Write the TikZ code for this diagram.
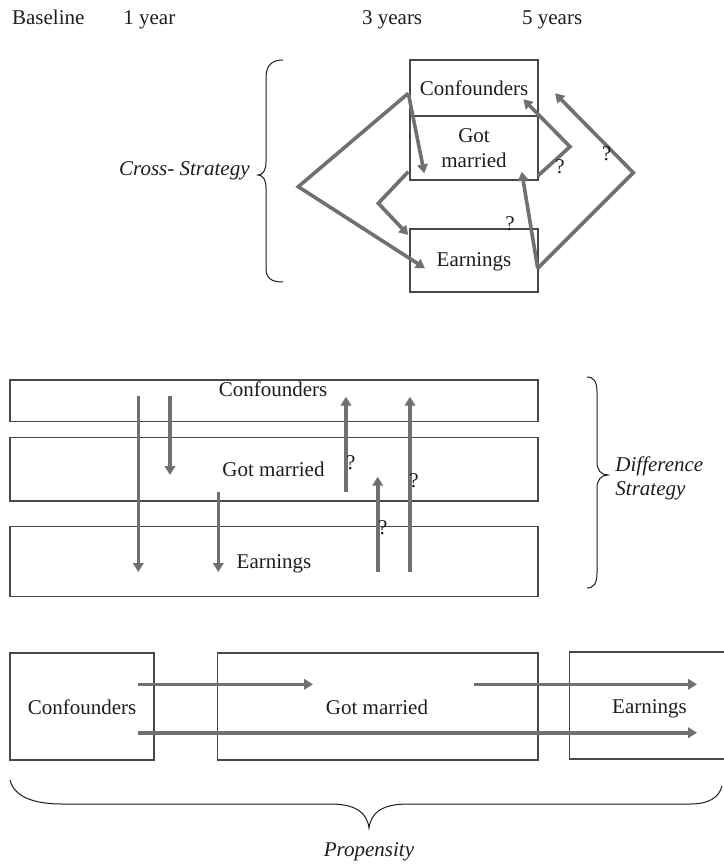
\documentclass[tikz,border=0pt]{standalone}
\usepackage{fontspec}
\setmainfont{Liberation Serif}
\usetikzlibrary{arrows.meta}
\definecolor{arr}{RGB}{112,112,114}
\definecolor{edge}{RGB}{72,72,72}
\definecolor{ink}{RGB}{30,30,30}
\begin{document}
\begin{tikzpicture}[x=0.5pt,y=-0.5pt,
  box/.style={draw=edge, line width=0.7pt, anchor=north west, inner sep=0pt, outer sep=0pt},
  lbl/.style={anchor=base, inner sep=0pt, text=ink, font=\fontsize{10.5}{12}\selectfont},
  lblw/.style={lbl, anchor=base west},
  ital/.style={lbl, font=\fontsize{10.5}{12}\selectfont\itshape},
  qm/.style={inner sep=0pt, text=ink, font=\fontsize{10.5}{12}\selectfont},
  arrow/.style={draw=arr, line width=1.8pt, -{Triangle[length=4.5pt,width=5.2pt]}},
  brc/.style={draw=ink, line width=0.5pt}]
\useasboundingbox[fill=white] (0,0) rectangle (723,865);

% ---------- header ----------
\node[lblw] (hB) at (11.7,25) {Baseline};
\node[lblw] (h1) at (123,25) {1 year};
\node[lblw] (h3) at (361.7,25) {3 years};
\node[lblw] (h5) at (521.7,25) {5 years};

% ---------- cross strategy ----------
\node[box, minimum width=64pt, minimum height=28pt] (tC) at (410,60) {};
\node[box, minimum width=64pt, minimum height=32pt] (tG) at (410,116) {};
\node[box, minimum width=64pt, minimum height=31.5pt] (tE) at (410,229) {};
\node[lbl] (tCt) at (474,96) {Confounders};
\node[lbl] (tGt1) at (474,143) {Got};
\node[lbl] (tGt2) at (474,168) {married};
\node[lbl] (tEt) at (474,267) {Earnings};
\node[ital, anchor=base east] (cross) at (250,176) {Cross- Strategy};

\coordinate (c1) at (408.3,93.3);
\coordinate (c1e) at (424.3,173.3);
\coordinate (c2m) at (298.3,186.7);
\coordinate (c2e) at (425,268.3);
\coordinate (c3s) at (408.3,171.7);
\coordinate (c3m) at (378.3,203.3);
\coordinate (c3e) at (408.3,235);
\coordinate (c4s) at (537.7,176);
\coordinate (c4m) at (570,146.7);
\coordinate (c4e) at (523.3,99.3);
\coordinate (c5s) at (537.7,268.3);
\coordinate (c5e) at (521.7,171.7);
\coordinate (c6m) at (633.3,172.7);
\coordinate (c6e) at (555,93.3);

\draw[arrow] (c1) -- (c1e);
\draw[arrow] (c1) -- (c2m) -- (c2e);
\draw[arrow] (c3s) -- (c3m) -- (c3e);
\draw[arrow] (c4s) -- (c4m) -- (c4e);
\draw[arrow] (c5s) -- (c5e);
\draw[arrow] (c5s) -- (c6m) -- (c6e);
\node[qm] (q1) at (560,166.7) {?};
\node[qm] (q2) at (510,223.3) {?};
\node[qm] (q3) at (606.7,153.3) {?};

\draw[brc] (283,60) .. controls (271,60) and (266,66) .. (266,78) -- (266,162)
  .. controls (266,170) and (263,175) .. (258,175)
  .. controls (263,175) and (266,180) .. (266,188) -- (266,268)
  .. controls (266,278) and (271,282) .. (283,282);

% ---------- difference strategy ----------
\node[box, minimum width=264pt, minimum height=20.85pt] (mC) at (10,380) {};
\node[box, minimum width=264pt, minimum height=31.65pt] (mG) at (10,437.7) {};
\node[box, minimum width=264pt, minimum height=35pt] (mE) at (10,526.7) {};
\node[lbl] (mCt) at (273,396.7) {Confounders};
\node[lbl] (mGt) at (273.5,476.7) {Got married};
\node[lbl] (mEt) at (274,568) {Earnings};

\coordinate (d1s) at (138.3,395.7);
\coordinate (d1e) at (138.3,572);
\coordinate (d2s) at (170,395.7);
\coordinate (d2e) at (170,475);
\coordinate (d3s) at (218.3,491.7);
\coordinate (d3e) at (218.3,572);
\coordinate (d4s) at (346,492);
\coordinate (d4e) at (346,396.7);
\coordinate (d5s) at (377.7,572);
\coordinate (d5e) at (377.7,476.7);
\coordinate (d6s) at (410,572);
\coordinate (d6e) at (410,396.7);
\draw[arrow] (d1s) -- (d1e);
\draw[arrow] (d2s) -- (d2e);
\draw[arrow] (d3s) -- (d3e);
\draw[arrow] (d4s) -- (d4e);
\draw[arrow] (d5s) -- (d5e);
\draw[arrow] (d6s) -- (d6e);
\node[qm] (q4) at (350.7,463) {?};
\node[qm] (q5) at (382.7,528) {?};
\node[qm] (q6) at (414,481) {?};

\draw[brc] (587,377) .. controls (594,377) and (597,382) .. (597,392) -- (597,462)
  .. controls (597,470) and (601,475) .. (608,475)
  .. controls (601,475) and (597,480) .. (597,488) -- (597,573)
  .. controls (597,583) and (594,588) .. (587,588);
\node[ital, anchor=base west] (diff1) at (615,471) {Difference};
\node[ital, anchor=base west] (diff2) at (615,495) {Strategy};

% ---------- propensity ----------
\node[box, minimum width=72pt, minimum height=53.5pt] (bC) at (10,653) {};
\node[box, minimum width=160.15pt, minimum height=53.5pt] (bG) at (217.7,653) {};
\node[box, minimum width=80pt, minimum height=53.5pt] (bE) at (569.7,652) {};
\node[lbl] (bCt) at (82,714) {Confounders};
\node[lbl] (bGt) at (377,714) {Got married};
\node[lbl] (bEt) at (649.5,713) {Earnings};

\coordinate (p1s) at (138.3,684.3);
\coordinate (p1e) at (313,684.3);
\coordinate (p2s) at (138.3,732.7);
\coordinate (p2e) at (697,732.7);
\coordinate (p3s) at (474,684.3);
\coordinate (p3e) at (697,684.3);
\draw[arrow] (p1s) -- (p1e);
\draw[arrow] (p2s) -- (p2e);
\draw[arrow] (p3s) -- (p3e);

\draw[brc] (10,780) .. controls (14,796) and (32,804) .. (62,804) -- (330,804)
  .. controls (355,804) and (367,812) .. (369,828)
  .. controls (371,812) and (383,804) .. (408,804) -- (690,804)
  .. controls (710,804) and (719,797) .. (722,786);
\node[ital] (prop) at (369,856) {Propensity};
\end{tikzpicture}
\end{document}
